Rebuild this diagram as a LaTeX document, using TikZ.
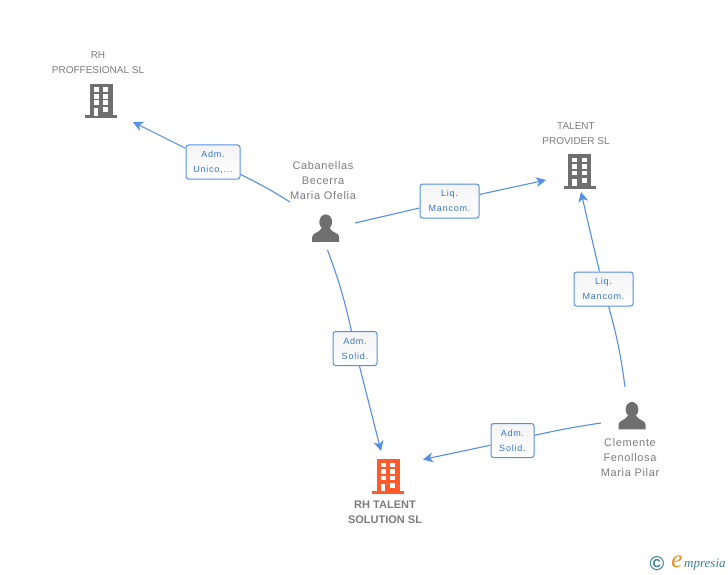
\documentclass[tikz,border=0pt]{standalone}
\usepackage{fontspec}
\setmainfont{Liberation Sans}
\newfontfamily\boxfont[LetterSpace=9]{Liberation Sans}
\newfontfamily\personfont[LetterSpace=6]{Liberation Sans}
\newfontfamily\logofont{Liberation Serif}
\usetikzlibrary{arrows.meta}
\definecolor{linkblue}{HTML}{5290E8}
\definecolor{boxtext}{HTML}{3376D6}
\definecolor{icongray}{HTML}{6F6F6F}
\definecolor{labelgray}{HTML}{7C7C7C}
\definecolor{mainorange}{HTML}{FF5A2C}
\definecolor{logoteal}{HTML}{3F7F96}
\definecolor{logoorange}{HTML}{F08A1D}
\tikzset{
  pics/building/.style={code={
    \fill[#1] (-11.5,-17) rectangle (11.5,15);
    \fill[#1] (-16,14.5) rectangle (16,17.5);
    \foreach \cx in {-7.2,2.2} {
      \foreach \cy in {-13.5,-7,-0.5} {
        \fill[white] (\cx,\cy) rectangle +(5,4.8);
      }
    }
    \fill[white] (2.2,6.5) rectangle +(5,5);
    \fill[white] (-7.2,7.5) rectangle (-2.6,15);
  }},
  pics/person/.style={code={
    \fill[icongray] (0,-6) ellipse (6.4 and 7.6);
    \fill[icongray] (-13.5,13.8) -- (-13.5,9)
      .. controls (-13.5,4.5) and (-6,5) .. (-4,0) -- (4,0)
      .. controls (6,5) and (13.5,4.5) .. (13.5,9) -- (13.5,13.8) -- cycle;
  }},
  namelabel/.style={text=labelgray, font=\fontsize{10}{15}\selectfont, align=center, inner sep=0pt},
  personlabel/.style={namelabel, font=\personfont\fontsize{11}{15}\selectfont},
  linkbox/.style={draw=linkblue, line width=1pt, rounded corners=2.5pt, top color=gray!9, bottom color=white,
    text=boxtext, font=\boxfont\fontsize{9}{15}\selectfont, align=center, inner sep=0pt, minimum height=34pt},
  link/.style={draw=linkblue, line width=1.1pt},
  linkend/.style={link, -{Stealth[length=10pt, width=10pt, inset=3pt]}},
}
\begin{document}
\begin{tikzpicture}[x=1pt, y=-1pt]
  \useasboundingbox (0,0) rectangle (728,575);

  \pic at (101,101) {building=icongray};
  \pic at (579.5,171) {building=icongray};
  \pic at (388,476) {building=mainorange};
  \pic at (325.7,228) {person};
  \pic at (632,415.5) {person};

  \node[namelabel] (proffesional) at (98,62.5) {RH\\PROFFESIONAL SL};
  \node[namelabel] (provider) at (576,133.5) {TALENT\\PROVIDER SL};
  \node[personlabel] (ofelia) at (323,181) {Cabanellas\\Becerra\\Maria Ofelia};
  \node[personlabel] (pilar) at (630,458) {Clemente\\Fenollosa\\Maria Pilar};
  \node[namelabel, font=\bfseries\fontsize{11}{15}\selectfont] (solution) at (385,512.5) {RH TALENT\\SOLUTION SL};

  \node[linkbox, minimum width=54pt] (unico) at (213,162) {Adm.\\Unico,...};
  \node[linkbox, minimum width=59pt] (mancomtop) at (449.5,201) {Liq.\\Mancom.};
  \node[linkbox, minimum width=44pt] (solidleft) at (355,348.5) {Adm.\\Solid.};
  \node[linkbox, minimum width=59pt] (mancomright) at (603.5,289) {Liq.\\Mancom.};
  \node[linkbox, minimum width=43pt] (solidright) at (512.5,440.5) {Adm.\\Solid.};

  \coordinate (ofeliaw) at (290,202);
  \coordinate (ofeliae) at (355,223);
  \coordinate (ofelias) at (327.5,250);
  \coordinate (pilarn) at (625,387);
  \coordinate (pilarw) at (601,423);
  \coordinate (proffesionalin) at (133,122);
  \coordinate (providerw) at (546,180);
  \coordinate (providers) at (581,192);
  \coordinate (solutionn) at (381,451);
  \coordinate (solutione) at (423,459.5);

  \draw[link] (ofeliaw) to[bend right=3] (unico);
  \draw[linkend] (unico) -- (proffesionalin);
  \draw[link] (ofeliae) -- (mancomtop);
  \draw[linkend] (mancomtop) -- (providerw);
  \draw[link] (ofelias) to[bend left=4] (solidleft);
  \draw[linkend] (solidleft) -- (solutionn);
  \draw[link] (pilarn) to[bend right=4] (mancomright);
  \draw[linkend] (mancomright) -- (providers);
  \draw[link] (pilarw) to[bend right=2] (solidright);
  \draw[linkend] (solidright) -- (solutione);

  \node[text=logoteal, inner sep=0pt, font=\bfseries\fontsize{20}{20}\selectfont] (copyrightmark) at (657,564) {©};
  \node[text=logoorange, inner sep=0pt, font=\logofont\itshape\fontsize{25}{25}\selectfont] (logoe) at (677,562) {e};
  \node[text=logoteal, inner sep=0pt, anchor=west, font=\logofont\itshape\fontsize{13}{13}\selectfont] (logotext) at (684,565) {mpresia};
\end{tikzpicture}
\end{document}
